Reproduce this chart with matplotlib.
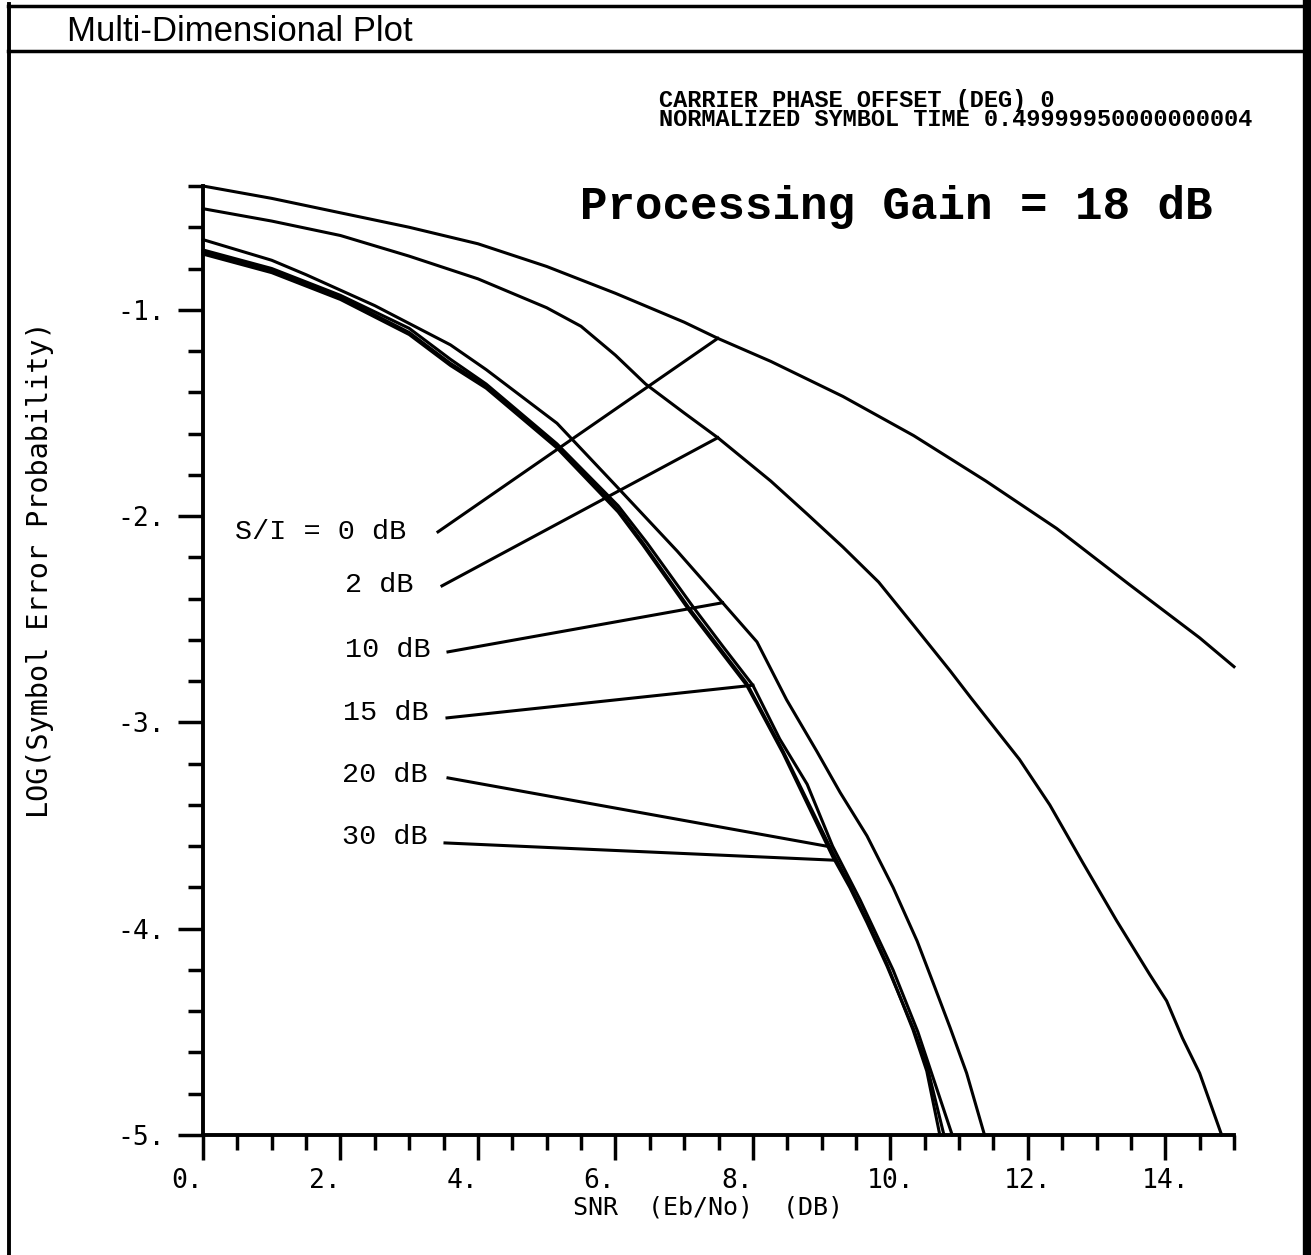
import matplotlib
matplotlib.use("Agg")
import matplotlib.pyplot as plt
from matplotlib.lines import Line2D
import numpy as np

W, H, DPI = 1311, 1255, 100

# ---------------- data ----------------
x_0dB = [0, 1, 2, 3, 4, 5, 6, 7, 7.5, 8.26, 9.31, 10.34, 11.39, 12.42, 13.47, 14.5, 15.0]
y_0dB = [-0.40, -0.46, -0.53, -0.60, -0.68, -0.79, -0.92, -1.06, -1.14, -1.25, -1.42, -1.61,
         -1.83, -2.06, -2.33, -2.59, -2.73]

x_2dB = [0, 1, 2, 3, 4, 5, 5.5, 6.0, 6.44, 7.0, 7.49, 8.26, 8.79, 9.31, 9.83, 10.34, 10.87,
         11.17, 11.88, 12.32, 12.8, 13.29, 13.77, 14.02, 14.25, 14.5, 14.82]
y_2dB = [-0.51, -0.57, -0.64, -0.74, -0.85, -0.99, -1.08, -1.22, -1.36, -1.50, -1.62, -1.83,
         -1.99, -2.15, -2.32, -2.53, -2.75, -2.88, -3.18, -3.40, -3.68, -3.96, -4.22, -4.35,
         -4.53, -4.70, -5.0]

x_10dB = [0, 1, 1.5, 2.5, 3.6, 4.12, 5.15, 6.0, 6.9, 7.56, 8.06, 8.49, 8.93, 9.27, 9.66, 10.04,
          10.39, 10.62, 10.87, 11.11, 11.37]
y_10dB = [-0.66, -0.76, -0.83, -0.98, -1.17, -1.29, -1.55, -1.85, -2.17, -2.42, -2.61, -2.89,
          -3.14, -3.34, -3.55, -3.80, -4.06, -4.26, -4.48, -4.70, -5.0]

x_15dB = [0, 1, 2, 3, 3.6, 4.12, 5.15, 6.04, 6.46, 7.13, 7.56, 8.0, 8.39, 8.79, 9.16, 9.56,
          10.04, 10.4, 10.9]
y_15dB = [-0.71, -0.80, -0.93, -1.09, -1.24, -1.36, -1.65, -1.95, -2.13, -2.44, -2.63, -2.82,
          -3.08, -3.30, -3.60, -3.86, -4.20, -4.50, -5.0]

x_20dB = [0, 1, 2, 3, 3.6, 4.12, 5.15, 6.04, 6.4, 7.08, 7.91, 8.44, 9.16, 9.41, 9.66, 9.95,
          10.14, 10.33, 10.53, 10.72]
y_20dB = [-0.72, -0.81, -0.94, -1.11, -1.26, -1.37, -1.66, -1.97, -2.13, -2.45, -2.81, -3.14,
          -3.63, -3.79, -3.96, -4.17, -4.33, -4.49, -4.69, -5.0]

x_30dB = [0, 1, 2, 3, 3.6, 4.12, 5.15, 6.04, 6.4, 7.08, 7.91, 8.44, 9.16, 9.41, 9.66, 9.95,
          10.14, 10.33, 10.53, 10.78]
y_30dB = [-0.73, -0.82, -0.95, -1.12, -1.27, -1.38, -1.67, -1.98, -2.14, -2.46, -2.82, -3.15,
          -3.65, -3.80, -3.97, -4.18, -4.33, -4.48, -4.66, -5.0]

curve_labels = ["S/I = 0 dB", "2 dB", "10 dB", "15 dB", "20 dB", "30 dB"]
# x position on each curve where its leader line ends
leader_end_x = [7.49, 7.49, 7.56, 8.0, 9.12, 9.19]

x_ticks = [0, 2, 4, 6, 8, 10, 12, 14]
x_tick_labels = ["0.", "2.", "4.", "6.", "8.", "10.", "12.", "14."]
y_ticks = [-5, -4, -3, -2, -1]
y_tick_labels = ["-5.", "-4.", "-3.", "-2.", "-1."]

title_text = "Multi-Dimensional Plot"
info_lines = ["CARRIER PHASE OFFSET (DEG) 0", "NORMALIZED SYMBOL TIME 0.49999950000000004"]
gain_text = "Processing Gain = 18 dB"
x_label = "SNR  (Eb/No)  (DB)"
y_label = "LOG(Symbol Error Probability)"

# ---------------- layout ----------------
plt.rcParams["font.family"] = ["DejaVu Sans Mono"]
fig = plt.figure(figsize=(W / DPI, H / DPI), dpi=DPI)
fig.patch.set_facecolor("white")

ax_l, ax_r, ax_t, ax_b = 203, 1234, 186, 1135
ax = fig.add_axes([ax_l / W, 1 - ax_b / H, (ax_r - ax_l) / W, (ax_b - ax_t) / H])
ax.set_xlim(0, 15)
ax.set_ylim(-5, -0.4)
for s in ("top", "right"):
    ax.spines[s].set_visible(False)
for s in ("left", "bottom"):
    ax.spines[s].set_linewidth(2.8)
ax.patch.set_alpha(0)

LW = 2.2
series = [(x_0dB, y_0dB), (x_2dB, y_2dB), (x_10dB, y_10dB),
          (x_15dB, y_15dB), (x_20dB, y_20dB), (x_30dB, y_30dB)]
for xs, ys in series:
    ax.plot(xs, ys, color="black", lw=LW, clip_on=False, solid_joinstyle="round")

# label texts and leader lines (layout positions in data coords)
px2x = lambda px: (px - ax_l) / ((ax_r - ax_l) / 15.0)
py2y = lambda py: -1 - (py - 310) / ((ax_b - 310) / 4.0)
text_pos_px = [(235, 532), (345, 585), (345, 650), (343, 713), (342, 775), (342, 837)]
lead_start_px = [(438, 532), (442, 586), (448, 652), (447, 718), (448, 778), (445, 843)]
for (xs, ys), lab, (tx, ty), (sx, sy), ex in zip(series, curve_labels, text_pos_px,
                                                  lead_start_px, leader_end_x):
    ax.text(px2x(tx), py2y(ty), lab, ha="left", va="center", fontsize=20.5,
            family="Liberation Mono", color="black")
    ey = float(np.interp(ex, xs, ys))
    ax.plot([px2x(sx), ex], [py2y(sy), ey], color="black", lw=LW)

# ticks
ax.set_xticks(x_ticks)
ax.set_xticklabels(x_tick_labels)
ax.set_xticks(np.arange(0, 15.01, 0.5), minor=True)
ax.set_yticks(y_ticks)
ax.set_yticklabels(y_tick_labels)
ax.set_yticks(np.arange(-5, -0.39, 0.2), minor=True)
ax.tick_params(which="major", direction="out", length=18, width=2.5, labelsize=19,
               colors="black")
ax.tick_params(which="minor", direction="out", length=10.5, width=2.5)
ax.tick_params(axis="x", which="major", pad=6)
ax.tick_params(axis="y", which="major", pad=9)
for lbl in ax.get_xticklabels():
    if len(lbl.get_text()) <= 2:
        lbl.set_horizontalalignment("right")

# axis titles
fig.text(708 / W, 1 - 1208 / H, x_label, ha="center", va="center", fontsize=18)
fig.text(40 / W, 1 - 570 / H, y_label, ha="center", va="center", rotation=90,
         fontsize=20.5)

# annotations at top (one two-line text block)
fig.text(659 / W, 1 - 110 / H, "\n".join(info_lines), ha="left", va="center",
         multialignment="left", fontsize=17, linespacing=0.82,
         family="Liberation Mono", weight="bold")
fig.text(580 / W, 1 - 207 / H, gain_text, ha="left", va="center", fontsize=33,
         family="Liberation Mono", weight="bold")

# title bar and frame
fig.text(67 / W, 1 - 41 / H, title_text, ha="left", va="baseline", fontsize=25,
         family="Liberation Sans")
def hline(y, x0, x1, lw):
    fig.add_artist(Line2D([x0 / W, x1 / W], [1 - y / H, 1 - y / H], color="black", lw=lw))
def vline(x, y0, y1, lw):
    fig.add_artist(Line2D([x / W, x / W], [1 - y0 / H, 1 - y1 / H], color="black", lw=lw))
hline(6, 8, 1311, 2.5)
hline(51, 8, 1311, 2.5)
vline(9, 4, 1255, 2.8)
vline(1307, 4, 1255, 6)

fig.savefig("out.png", dpi=DPI, facecolor="white")
